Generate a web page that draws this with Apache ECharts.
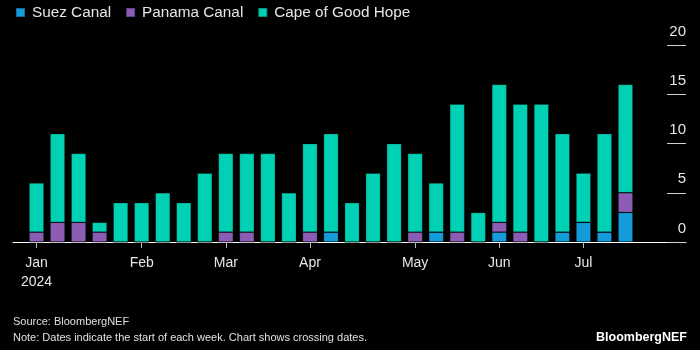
<!DOCTYPE html>
<html>
<head>
<meta charset="utf-8">
<script src="https://cdn.jsdelivr.net/npm/echarts@6/dist/echarts.min.js"></script>
<style>
  html, body { margin: 0; padding: 0; background: #000; }
  #main { width: 700px; height: 350px; }
</style>
</head>
<body>
<div id="main"></div>
<script>
// week start dates (Mondays)
var weeks = ['2024-01-01', '2024-01-08', '2024-01-15', '2024-01-22', '2024-01-29',
  '2024-02-05', '2024-02-12', '2024-02-19', '2024-02-26',
  '2024-03-04', '2024-03-11', '2024-03-18', '2024-03-25',
  '2024-04-01', '2024-04-08', '2024-04-15', '2024-04-22', '2024-04-29',
  '2024-05-06', '2024-05-13', '2024-05-20', '2024-05-27',
  '2024-06-03', '2024-06-10', '2024-06-17', '2024-06-24',
  '2024-07-01', '2024-07-08', '2024-07-15'];
var monthNames = ['Jan', 'Feb', 'Mar', 'Apr', 'May', 'Jun', 'Jul', 'Aug', 'Sep', 'Oct', 'Nov', 'Dec'];

var suez   = [0, 0, 0, 0, 0, 0, 0, 0, 0, 0, 0, 0, 0, 0, 1, 0, 0, 0, 0, 1, 0, 0, 1, 0, 0, 1, 2, 1, 3];
var panama = [1, 2, 2, 1, 0, 0, 0, 0, 0, 1, 1, 0, 0, 1, 0, 0, 0, 0, 1, 0, 1, 0, 1, 1, 0, 0, 0, 0, 2];
var cape   = [5, 9, 7, 1, 4, 4, 5, 4, 7, 8, 8, 9, 5, 9, 10, 4, 7, 10, 8, 5, 13, 3, 14, 13, 14, 10, 5, 10, 11];

var yTicks = [0, 5, 10, 15, 20];

var FONT = "'Liberation Sans', Arial, Helvetica, sans-serif";

// first week of each month gets a label
function isMonthStart(idx) {
  return +weeks[idx].slice(8, 10) <= 7;
}
function monthLabel(val, idx) {
  var m = +val.slice(5, 7) - 1;
  if (idx === 0) return monthNames[m] + '\n' + val.slice(0, 4);
  return monthNames[m];
}

var chart = echarts.init(document.getElementById('main'), null, { renderer: 'canvas' });

var barBorder = { borderColor: 'rgba(0,0,0,0.3)', borderWidth: 0.8 };

var option = {
  backgroundColor: '#000',
  animation: false,
  textStyle: { fontFamily: FONT },
  legend: {
    left: 15,
    top: 5,
    padding: 0,
    itemWidth: 9,
    itemHeight: 9,
    itemGap: 14,
    icon: 'rect',
    textStyle: { color: '#e6e6e6', fontSize: 15.3, fontFamily: FONT, padding: [0, 0, 0, 2] },
    data: ['Suez Canal', 'Panama Canal', 'Cape of Good Hope']
  },
  title: [{
    text: 'Source: BloombergNEF\nNote: Dates indicate the start of each week. Chart shows crossing dates.',
    left: 13,
    top: 314,
    padding: 0,
    textStyle: { color: '#e0e0e0', fontSize: 11, fontWeight: 'normal', lineHeight: 16, fontFamily: FONT }
  }, {
    text: 'BloombergNEF',
    right: 13,
    top: 331,
    padding: 0,
    textStyle: { color: '#fff', fontSize: 12.5, fontWeight: 'bold', fontFamily: FONT }
  }],
  grid: [
    { left: 26, right: 64, top: 45, bottom: 108 },
    { left: 13, right: 14, top: 45, bottom: 108 }
  ],
  xAxis: [{
    type: 'category',
    gridIndex: 0,
    data: weeks,
    axisLine: { show: false },
    axisTick: {
      show: true,
      alignWithLabel: true,
      length: 6,
      interval: function (idx) { return isMonthStart(idx); },
      lineStyle: { color: '#bbb', width: 1 }
    },
    axisLabel: {
      interval: function (idx) { return isMonthStart(idx); },
      formatter: monthLabel,
      color: '#e6e6e6',
      fontSize: 14,
      lineHeight: 19,
      margin: 12,
      fontFamily: FONT
    }
  }, {
    type: 'value',
    gridIndex: 1,
    min: 0,
    max: 1,
    axisLine: { show: true, onZero: false, lineStyle: { color: '#fff', width: 1 } },
    axisTick: { show: false },
    axisLabel: { show: false },
    splitLine: { show: false }
  }],
  yAxis: [{
    type: 'value',
    gridIndex: 0,
    min: yTicks[0],
    max: yTicks[yTicks.length - 1],
    show: false
  }, {
    type: 'value',
    gridIndex: 1,
    position: 'right',
    offset: -19,
    min: yTicks[0],
    max: yTicks[yTicks.length - 1],
    interval: 5,
    axisLine: { show: false, onZero: false },
    axisTick: { show: true, inside: false, length: 19, lineStyle: { color: '#d0d0d0', width: 1 } },
    axisLabel: {
      margin: 19,
      align: 'right',
      verticalAlign: 'bottom',
      padding: [0, 0, 6, 0],
      color: '#e6e6e6',
      fontSize: 15,
      fontFamily: FONT
    },
    splitLine: { show: false }
  }],
  series: [{
    name: 'Suez Canal',
    type: 'bar',
    stack: 'total',
    xAxisIndex: 0,
    yAxisIndex: 0,
    barWidth: 15,
    itemStyle: Object.assign({ color: '#149bda' }, barBorder),
    data: suez
  }, {
    name: 'Panama Canal',
    type: 'bar',
    stack: 'total',
    xAxisIndex: 0,
    yAxisIndex: 0,
    barWidth: 15,
    itemStyle: Object.assign({ color: '#8d5db6' }, barBorder),
    data: panama
  }, {
    name: 'Cape of Good Hope',
    type: 'bar',
    stack: 'total',
    xAxisIndex: 0,
    yAxisIndex: 0,
    barWidth: 15,
    itemStyle: Object.assign({ color: '#00d1b4' }, barBorder),
    data: cape
  }]
};

chart.setOption(option);
</script>
</body>
</html>
